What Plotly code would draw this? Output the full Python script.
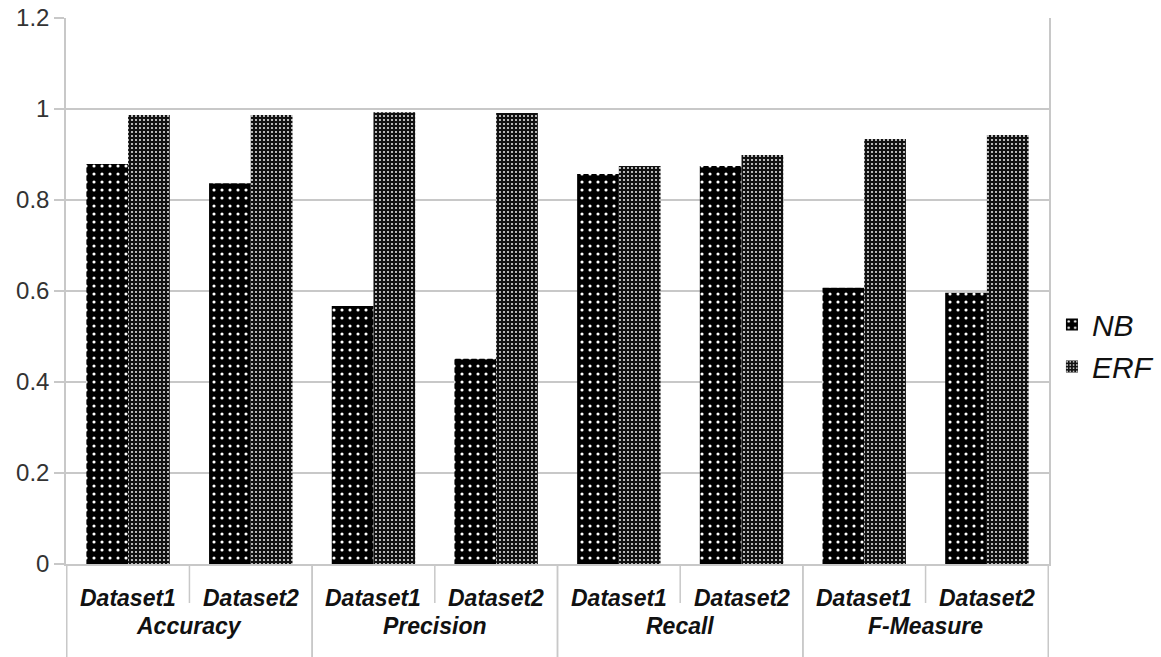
import plotly.graph_objects as go

metrics = ["Accuracy", "Accuracy", "Precision", "Precision", "Recall", "Recall", "F-Measure", "F-Measure"]
datasets = ["Dataset1", "Dataset2"] * 4
nb_values = [0.879, 0.837, 0.567, 0.451, 0.857, 0.875, 0.607, 0.596]
erf_values = [0.987, 0.987, 0.993, 0.991, 0.875, 0.899, 0.934, 0.943]
y_ticks = [0, 0.2, 0.4, 0.6, 0.8, 1, 1.2]

FONT = "Liberation Sans, Arial, sans-serif"
GRID = "#c8c8c8"
PLOT_H = 657 - 18 - 93

fig = go.Figure()
fig.add_trace(go.Bar(
    name="NB", x=[metrics, datasets], y=nb_values,
    marker=dict(color="black", line=dict(width=0),
                pattern=dict(shape=".", bgcolor="black", fgcolor="white", size=8, solidity=0.12, fillmode="replace")),
))
fig.add_trace(go.Bar(
    name="ERF", x=[metrics, datasets], y=erf_values,
    marker=dict(color="#1a1a1a", line=dict(width=0),
                pattern=dict(shape=".", bgcolor="#111111", fgcolor="#e0e0e0", size=4, solidity=0.22, fillmode="replace")),
))

label_font = dict(size=23, style="italic", weight="bold", color="#111", family=FONT)

# inner category labels and short dividers
for i, d in enumerate(datasets):
    fig.add_annotation(x=i, y=-34 / PLOT_H, xref="x", yref="paper", text=d, showarrow=False,
                       yanchor="middle", font=label_font)
    if i % 2 == 0:
        fig.add_shape(type="line", xref="x", yref="paper", x0=i + 0.5, x1=i + 0.5, y0=0, y1=-39 / PLOT_H,
                      line=dict(color=GRID, width=1.5))

# outer group labels and full dividers
groups = list(dict.fromkeys(metrics))
for g in groups:
    idx = [i for i, m in enumerate(metrics) if m == g]
    fig.add_annotation(x=sum(idx) / len(idx), y=-62 / PLOT_H, xref="x", yref="paper", text=g,
                       showarrow=False, yanchor="middle", font=label_font)
    for edge in (min(idx) - 0.5, max(idx) + 0.5):
        fig.add_shape(type="line", xref="x", yref="paper", x0=edge, x1=edge, y0=0, y1=-93 / PLOT_H,
                      line=dict(color=GRID, width=1.5))

fig.update_layout(
    width=1161, height=657,
    margin=dict(l=66, r=112, t=18, b=93, autoexpand=False),
    plot_bgcolor="white", paper_bgcolor="white",
    barmode="group", bargap=0.32, bargroupgap=0,
    font=dict(family=FONT, color="#222"),
    legend=dict(x=1.003, y=0.40, yanchor="middle", xanchor="left",
                font=dict(size=30, style="italic", family=FONT, color="#111"),
                itemwidth=30, tracegroupgap=5),
    showlegend=True,
)
fig.update_yaxes(range=[0, 1.2], tickvals=y_ticks, showgrid=True, gridcolor=GRID, gridwidth=1.5,
                 ticks="outside", ticklen=10, tickcolor=GRID, tickwidth=1.5,
                 showline=True, mirror=True, linecolor=GRID, linewidth=1.5, automargin=False,
                 tickfont=dict(size=24, color="#333", family=FONT), zeroline=False)
fig.update_xaxes(type="multicategory", showdividers=False, showticklabels=False,
                 showline=True, linecolor=GRID, linewidth=1.5, ticks="", automargin=False)

fig.write_html("out.html", config={"displayModeBar": False},
               post_script="document.body.style.margin='0';document.body.style.overflow='hidden';")
